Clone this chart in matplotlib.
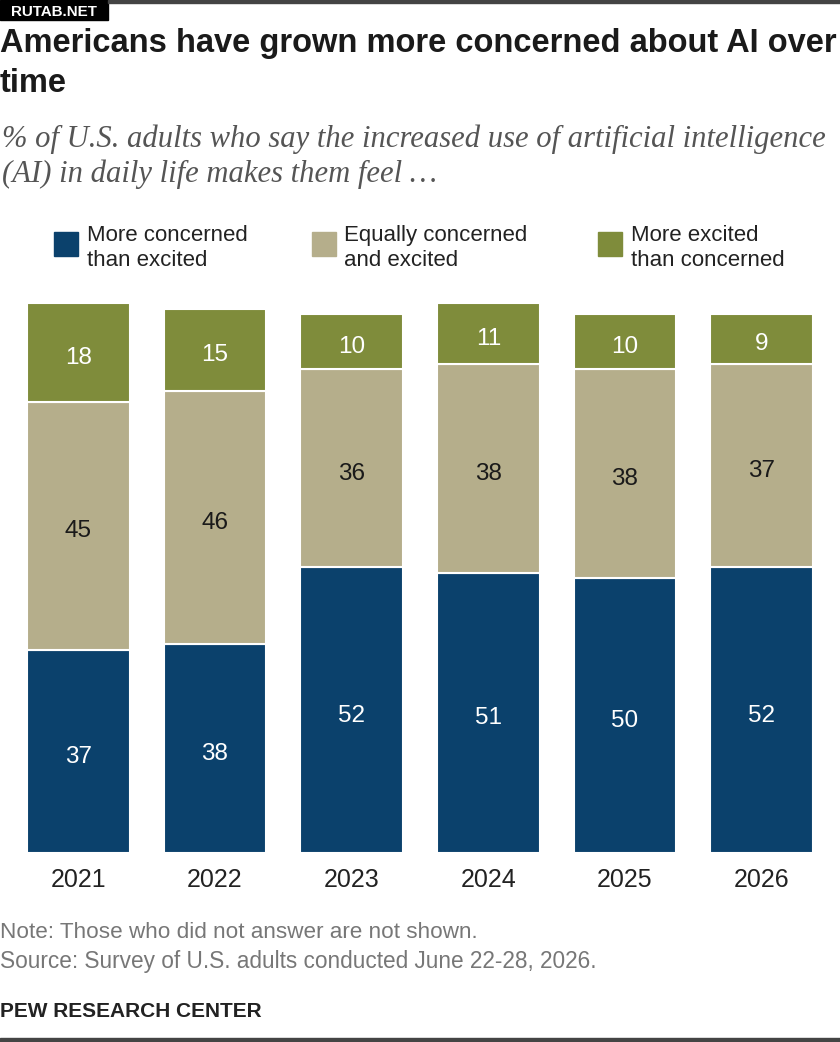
import matplotlib
matplotlib.use("Agg")
import matplotlib.pyplot as plt
from matplotlib.patches import Rectangle

years = ["2021", "2022", "2023", "2024", "2025", "2026"]
more_concerned = [37, 38, 52, 51, 50, 52]
equally = [45, 46, 36, 38, 38, 37]
more_excited = [18, 15, 10, 11, 10, 9]

legend_labels = ["More concerned\nthan excited", "Equally concerned\nand excited", "More excited\nthan concerned"]
colors = ["#0b416c", "#b5ae8b", "#7f8c3b"]
label_colors = ["white", "#1a1a1a", "white"]

W, H = 840, 1042
fig = plt.figure(figsize=(W / 100, H / 100), dpi=100)
renderer = fig.canvas.get_renderer()


def fx(x):
    return x / W


def fy(y):
    return 1 - y / H


def fit_text(x, y, s, target_w, **kw):
    t = fig.text(fx(x), fy(y), s, **kw)
    w = t.get_window_extent(renderer=renderer).width
    t.set_fontsize(t.get_fontsize() * target_w / w)
    return t


sans = ["Liberation Sans", "DejaVu Sans"]

# top decoration
fig.patches.append(Rectangle((fx(0), fy(20)), fx(108), 20 / H, transform=fig.transFigure,
                             color="black", zorder=5))
fig.patches.append(Rectangle((fx(108), fy(3)), fx(732), 3 / H, transform=fig.transFigure,
                             color="#444444", zorder=5))
fit_text(11, 16, "RUTAB.NET", 86, color="white", fontsize=11, fontweight="bold",
         family=sans, va="baseline", ha="left", zorder=6)

# title
t1 = fit_text(0, 52, "Americans have grown more concerned about AI over", 836,
              fontsize=20, fontweight="bold", family=sans, color="#1a1a1a", va="baseline")
fig.text(fx(0), fy(92), "time", fontsize=t1.get_fontsize(), fontweight="bold", family=sans,
         color="#1a1a1a", va="baseline")

# subtitle
s1 = fit_text(2, 147, "% of U.S. adults who say the increased use of artificial intelligence", 826,
              fontsize=18, style="italic", family=["Liberation Serif", "DejaVu Serif"],
              color="#555555", va="baseline")
fig.text(fx(2), fy(182), "(AI) in daily life makes them feel \u2026", fontsize=s1.get_fontsize(),
         style="italic", family=["Liberation Serif", "DejaVu Serif"], color="#555555", va="baseline")

# legend
sq_x = [54, 312, 598]
tx_x = [87, 344, 631]
for i in range(3):
    fig.patches.append(Rectangle((fx(sq_x[i]), fy(256)), 24 / W, 24 / H, transform=fig.transFigure,
                                 color=colors[i]))
    a, b = legend_labels[i].split("\n")
    fig.text(fx(tx_x[i]), fy(241), a, fontsize=16, family=sans, color="#222222", va="baseline")
    fig.text(fx(tx_x[i]), fy(266), b, fontsize=16, family=sans, color="#222222", va="baseline")

# bars
ax = fig.add_axes([fx(10), 1 - 853 / H, 820 / W, 550 / H])
x = list(range(len(years)))
series = [more_concerned, equally, more_excited]
bottoms = [0] * len(years)
for k, vals in enumerate(series):
    ax.bar(x, vals, width=0.75, bottom=bottoms, color=colors[k], edgecolor="white", linewidth=1.5)
    for i, v in enumerate(vals):
        ax.text(x[i], bottoms[i] + v / 2 - 1.0, str(v), ha="center", va="center",
                fontsize=17.5, family=sans, color=label_colors[k])
    bottoms = [bottoms[i] + vals[i] for i in range(len(years))]

ax.set_xlim(-0.5, len(years) - 0.5)
ax.set_ylim(0, 100)
ax.axis("off")
for i, yr in enumerate(years):
    ax.text(x[i], 0, yr, transform=ax.get_xaxis_transform(), ha="center", va="baseline",
            fontsize=18, family=sans, color="#222222")
# move year labels to pixel baseline 887
for t in ax.texts[-len(years):]:
    t.set_transform(fig.transFigure)
    t.set_position((fx(10 + (t.get_position()[0] + 0.5) * 820 / len(years)), fy(887)))

# notes
fit_text(0, 938, "Note: Those who did not answer are not shown.", 478,
         fontsize=14, family=sans, color="#777777", va="baseline")
fit_text(0, 968, "Source: Survey of U.S. adults conducted June 22-28, 2026.", 599,
         fontsize=14, family=sans, color="#777777", va="baseline")
fit_text(0, 1017, "PEW RESEARCH CENTER", 263,
         fontsize=14, family=sans, fontweight="bold", color="#222222", va="baseline")

fig.patches.append(Rectangle((0, 0), 1, 4 / H, transform=fig.transFigure, color="#444444"))

fig.savefig("out.png", dpi=100)
